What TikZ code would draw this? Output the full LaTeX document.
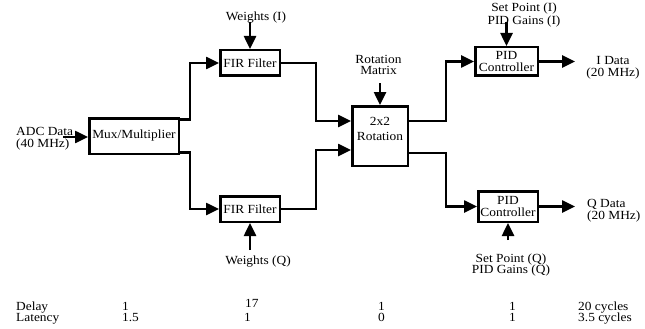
\documentclass[tikz,border=0pt]{standalone}
\usepackage{fontspec}
\setmainfont[FakeStretch=1.08]{Liberation Serif}
\usetikzlibrary{arrows.meta}
\newcommand\dfont{\fontsize{12.4}{12}\selectfont}
\begin{document}
\begin{tikzpicture}[x=1pt,y=-1pt,
  lw/.style={line width=2.5pt},
  blk/.style={draw,lw,inner sep=0pt,align=center,font=\dfont},
  lbl/.style={inner sep=0pt,align=center,font=\dfont},
  arr/.style={lw,-{Triangle[length=13pt,width=12pt]}},
]
\useasboundingbox (0,0) rectangle (645,329);

% blocks
\node[blk,minimum width=89.5pt,minimum height=35.5pt] (mux) at (134,136) {Mux/Multiplier};
\node[blk,minimum width=59.5pt,minimum height=25.5pt] (firI) at (250,63) {FIR Filter};
\node[blk,minimum width=59.5pt,minimum height=25.5pt] (firQ) at (250,209) {FIR Filter};
\node[blk,minimum width=55.5pt,minimum height=59.5pt] (rot) at (380,136) {2x2\\[3pt]Rotation\\[2pt]};
\node[blk,minimum width=62.5pt,minimum height=28.5pt] (pidI) at (506.5,61.5) {PID\\Controller};
\node[blk,minimum width=59.5pt,minimum height=30.5pt] (pidQ) at (508,206.5) {PID\\Controller};

% labels
\node[lbl,align=left,anchor=west] (adc) at (16,139) {ADC Data\\(40 MHz)};
\node[lbl] (wI) at (256,18) {Weights (I)};
\node[lbl] (wQ) at (258,262) {Weights (Q)};
\node[lbl,font=\fontsize{12.4}{11.5}\selectfont] (rm) at (378.5,65) {Rotation\\Matrix};
\node[lbl,font=\fontsize{12.4}{11}\selectfont] (spI) at (524,15) {Set Point (I)\\PID Gains (I)};
\node[lbl,font=\fontsize{12.4}{11.5}\selectfont] (spQ) at (511,265) {Set Point (Q)\\PID Gains (Q)};
\node[lbl] (iD) at (613,68) {I Data\\(20 MHz)};
\node[lbl,align=left,anchor=west,font=\fontsize{12.4}{10.5}\selectfont] (qD) at (587,211) {Q Data\\(20 MHz)};

\coordinate (adcs) at (63,137);
\coordinate (iout) at (575,61.5);
\coordinate (qout) at (575,206.5);

% connectors
\draw[arr] (adcs) -- (adcs -| mux.west);
\draw[arr] ([yshift=-2.5pt]mux.north east) -- ++(10,0) |- (firI.west);
\draw[arr] ([yshift=2.5pt]mux.south east) -- ++(10,0) |- (firQ.west);
\draw[arr] (firI.east) -- ++(35,0) |- ([yshift=15pt]rot.west);
\draw[arr] (firQ.east) -- ++(35,0) |- ([yshift=-14pt]rot.west);
\draw[arr] ([yshift=15pt]rot.east) -- ++(37,0) |- (pidI.west);
\draw[arr] ([yshift=-17pt]rot.east) -- ++(37,0) |- (pidQ.west);
\draw[arr] (pidI.east) -- (iout);
\draw[arr] (pidQ.east) -- (qout);
\draw[arr] ([yshift=27pt]firI.north) -- (firI.north);
\draw[arr] ([yshift=-27pt]firQ.south) -- (firQ.south);
\draw[arr] ([yshift=22pt]rot.north) -- (rot.north);
\draw[arr] ([yshift=24pt]pidI.north) -- (pidI.north);
\draw[arr] ([yshift=-17pt]pidQ.south) -- (pidQ.south);

% table
\begin{scope}[every node/.style={lbl,anchor=base west}]
\node (d0) at (16,310) {Delay};
\node (l0) at (16,321.5) {Latency};
\node (d1) at (122,310) {1};
\node (l1) at (122,321.5) {1.5};
\node (d2) at (245,307) {17};
\node (l2) at (244,321.5) {1};
\node (d3) at (378,310) {1};
\node (l3) at (378,321.5) {0};
\node (d4) at (509,310) {1};
\node (l4) at (509,321.5) {1};
\node (d5) at (578,310) {20 cycles};
\node (l5) at (578,321.5) {3.5 cycles};
\end{scope}
\end{tikzpicture}
\end{document}
